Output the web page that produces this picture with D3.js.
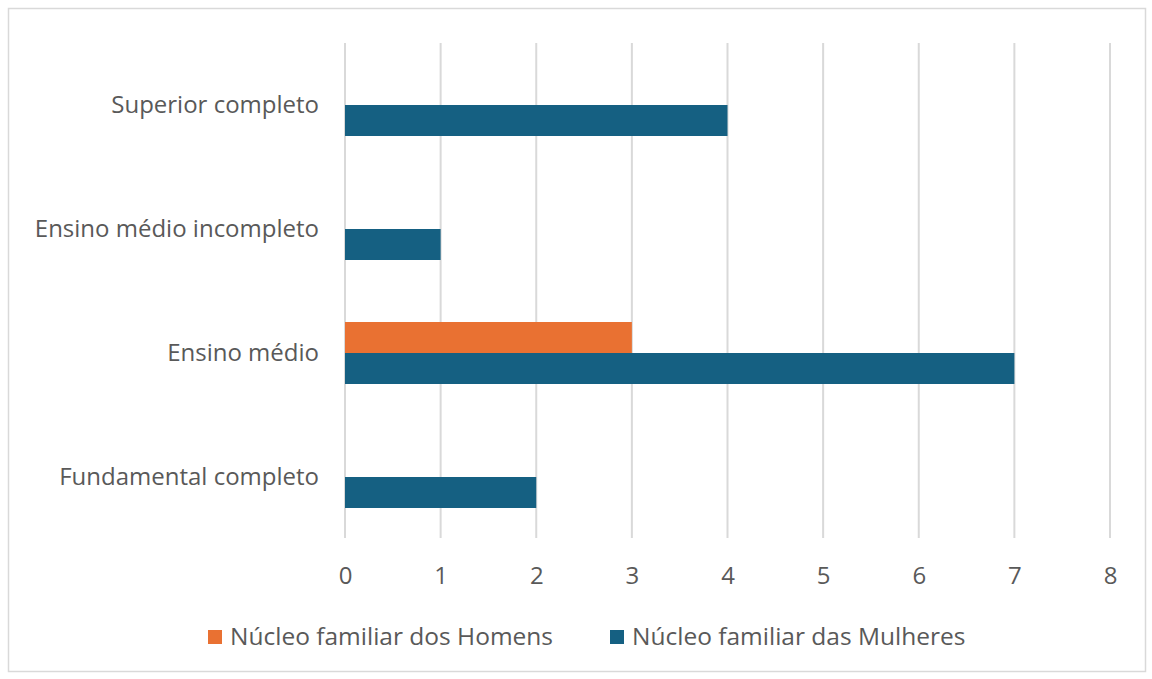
<!DOCTYPE html>
<html><head><meta charset="utf-8">
<script src="https://cdn.jsdelivr.net/npm/d3@7"></script>
<style>body{margin:0;background:#fff}svg{display:block}text{font-family:"Open Sans","Noto Sans",sans-serif;fill:#595959}</style>
</head><body><svg id="c" width="1152" height="679"></svg>
<script>
const categories = ["Superior completo","Ensino médio incompleto","Ensino médio","Fundamental completo"];
const seriesNames = ["Núcleo familiar dos Homens","Núcleo familiar das Mulheres"];
const homens = [0,0,3,0];
const mulheres = [4,1,7,2];
const xTicks = [0,1,2,3,4,5,6,7,8];
const colors = ["#E97132","#156082"];

const svg = d3.select("#c");
svg.append("rect").attr("x",8.5).attr("y",8.5).attr("width",1137).attr("height",663).attr("fill","#fff").attr("stroke","#d9d9d9").attr("stroke-width",1.5);

const x = d3.scaleLinear().domain([0,8]).range([345,1110]);
const y = d3.scaleBand().domain(categories).range([43,539]).paddingInner(0.5).paddingOuter(0.25);
const sub = d3.scaleBand().domain(seriesNames).range([0,y.bandwidth()]);

const g = svg.append("g");
g.selectAll("line.grid").data(xTicks).join("line").attr("class","grid")
 .attr("x1",d=>x(d)).attr("x2",d=>x(d)).attr("y1",43).attr("y2",538)
 .attr("stroke","#d9d9d9").attr("stroke-width",2);

const series = [homens, mulheres];
series.forEach((vals,si)=>{
  g.selectAll("rect.s"+si).data(categories).join("rect").attr("class","s"+si)
   .attr("x",x(0)).attr("y",(c)=>y(c)+sub(seriesNames[si]))
   .attr("width",(c,i)=>x(vals[i])-x(0)).attr("height",sub.bandwidth())
   .attr("fill",colors[si]);
});

// category labels
g.selectAll("text.cat").data(categories).join("text").attr("class","cat")
 .attr("x",319).attr("y",c=>y(c)+y.bandwidth()/2 + 2)
 .attr("text-anchor","end").attr("dominant-baseline","middle").attr("font-size",24).text(d=>d);

// x axis labels
const xa = svg.append("g").attr("transform","translate(0,538)")
 .call(d3.axisBottom(x).tickValues(xTicks).tickSize(0).tickPadding(29).tickFormat(d3.format("d")));
xa.select(".domain").remove();
xa.selectAll("text").attr("font-size",24).style("font-family",'"Open Sans","Noto Sans",sans-serif').attr("fill","#595959");

// legend
const leg = svg.append("g");
const lx = [208,610];
seriesNames.forEach((n,i)=>{
  leg.append("rect").attr("x",lx[i]).attr("y",630).attr("width",14).attr("height",14).attr("fill",colors[i]);
  leg.append("text").attr("x",lx[i]+22).attr("y",638).attr("dominant-baseline","middle").attr("font-size",24.5).text(n);
});
</script></body></html>
